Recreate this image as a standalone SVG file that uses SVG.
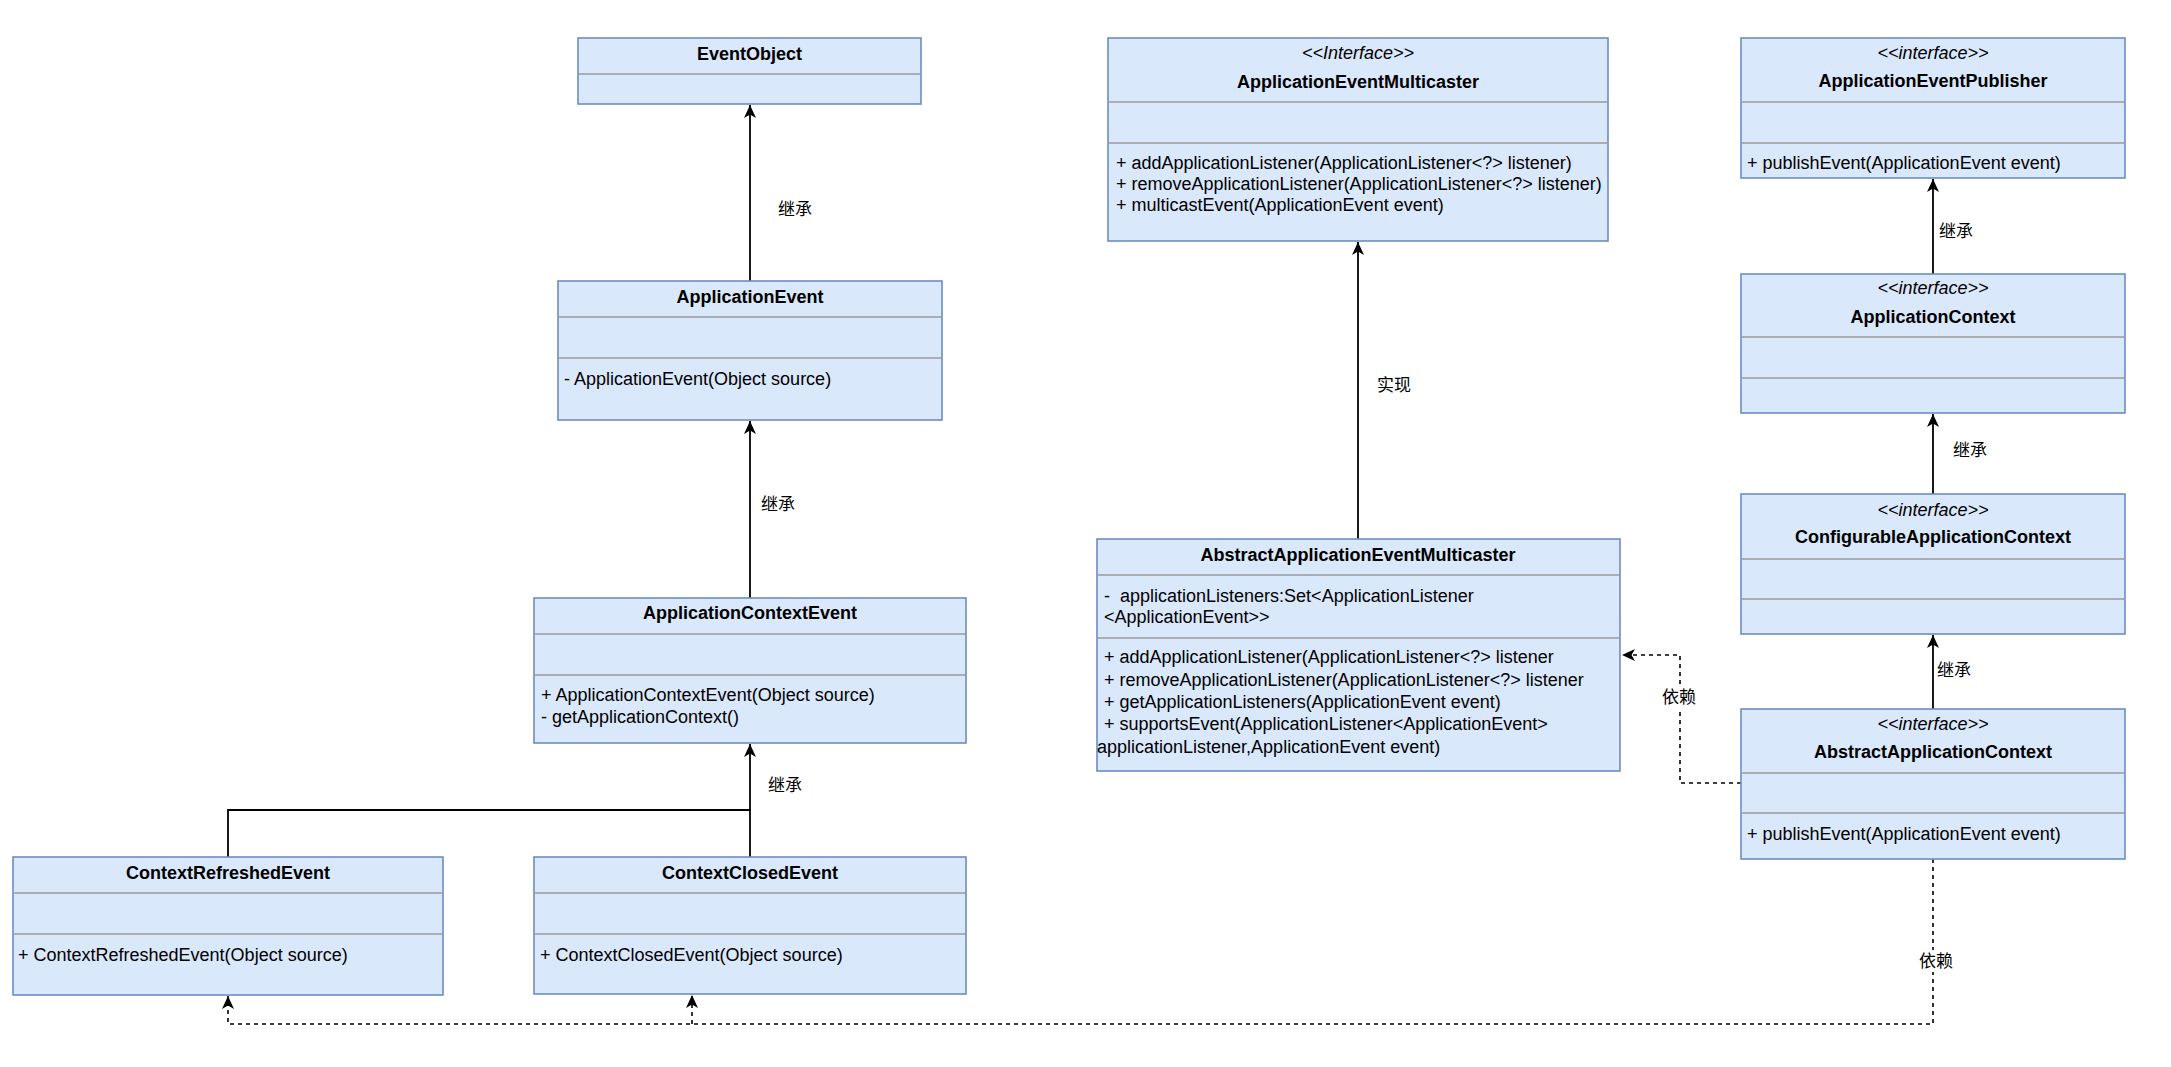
<svg xmlns="http://www.w3.org/2000/svg" width="2171" height="1067" viewBox="0 0 2171 1067">
<defs>
<style>
.box{fill:#dae8fc;stroke:#6c8ebf;stroke-width:1.6}
.div{stroke:#9a9a9a;stroke-width:1.4}
text{font-family:"Liberation Sans",Arial,"Noto Sans CJK SC",sans-serif;font-size:18px;fill:#000}
.n{font-weight:bold;text-anchor:middle}
.s{font-style:italic;text-anchor:middle}
.lbl{font-family:"Liberation Sans","Noto Sans CJK SC",sans-serif;font-size:17px;text-anchor:middle}
.ln{fill:none;stroke:#000;stroke-width:1.8}
.dash{fill:none;stroke:#000;stroke-width:1.6;stroke-dasharray:4 4}
</style>
<marker id="arr" viewBox="0 0 14 12" refX="13" refY="6" markerWidth="14" markerHeight="12" markerUnits="userSpaceOnUse" orient="auto"><path d="M0,0 L13,6 L0,12 L3.5,6 Z" fill="#000"/></marker>
</defs>
<rect width="2171" height="1067" fill="#fff"/>

<g id="connectors">
<path class="ln" d="M750,281 V105" marker-end="url(#arr)"/>
<path class="ln" d="M750,598 V421" marker-end="url(#arr)"/>
<path class="ln" d="M750,857 V744" marker-end="url(#arr)"/>
<path class="ln" d="M228,857 V810 H750"/>
<path class="ln" d="M1358,539 V242" marker-end="url(#arr)"/>
<path class="ln" d="M1933,274 V179" marker-end="url(#arr)"/>
<path class="ln" d="M1933,494 V414" marker-end="url(#arr)"/>
<path class="ln" d="M1933,709 V635" marker-end="url(#arr)"/>
<path class="dash" d="M1741,783 H1680 V655 H1622" marker-end="url(#arr)"/>
<path class="dash" d="M1933,859 V1024 H228 V996" marker-end="url(#arr)"/>
<path class="dash" d="M692,1024 V995" marker-end="url(#arr)"/>
<text class="lbl" x="795" y="215">继承</text>
<text class="lbl" x="778" y="510">继承</text>
<text class="lbl" x="785" y="791">继承</text>
<text class="lbl" x="1394" y="391">实现</text>
<text class="lbl" x="1956" y="237">继承</text>
<text class="lbl" x="1970" y="456">继承</text>
<text class="lbl" x="1954" y="676">继承</text>
<rect x="1660" y="686" width="38" height="22" fill="#fff"/>
<text class="lbl" x="1679" y="703">依赖</text>
<rect x="1917" y="950" width="38" height="22" fill="#fff"/>
<text class="lbl" x="1936" y="967">依赖</text>
</g>

<g id="EventObject">
<rect class="box" x="578" y="38" width="343" height="66"/>
<line class="div" x1="578" y1="74" x2="921" y2="74"/>
<text class="n" x="749.5" y="60">EventObject</text>
</g>

<g id="ApplicationEvent">
<rect class="box" x="558" y="281" width="384" height="139"/>
<line class="div" x1="558" y1="317" x2="942" y2="317"/>
<line class="div" x1="558" y1="358" x2="942" y2="358"/>
<text class="n" x="750" y="303">ApplicationEvent</text>
<text x="564" y="385">- ApplicationEvent(Object source)</text>
</g>

<g id="ApplicationContextEvent">
<rect class="box" x="534" y="598" width="432" height="145"/>
<line class="div" x1="534" y1="634" x2="966" y2="634"/>
<line class="div" x1="534" y1="675" x2="966" y2="675"/>
<text class="n" x="750" y="619">ApplicationContextEvent</text>
<text x="541" y="701">+ ApplicationContextEvent(Object source)</text>
<text x="541" y="723">- getApplicationContext()</text>
</g>

<g id="ContextRefreshedEvent">
<rect class="box" x="13" y="857" width="430" height="138"/>
<line class="div" x1="13" y1="893" x2="443" y2="893"/>
<line class="div" x1="13" y1="934" x2="443" y2="934"/>
<text class="n" x="228" y="879">ContextRefreshedEvent</text>
<text x="18" y="961">+ ContextRefreshedEvent(Object source)</text>
</g>

<g id="ContextClosedEvent">
<rect class="box" x="534" y="857" width="432" height="137"/>
<line class="div" x1="534" y1="893" x2="966" y2="893"/>
<line class="div" x1="534" y1="934" x2="966" y2="934"/>
<text class="n" x="750" y="879">ContextClosedEvent</text>
<text x="540" y="961">+ ContextClosedEvent(Object source)</text>
</g>

<g id="ApplicationEventMulticaster">
<rect class="box" x="1108" y="38" width="500" height="203"/>
<line class="div" x1="1108" y1="102" x2="1608" y2="102"/>
<line class="div" x1="1108" y1="143" x2="1608" y2="143"/>
<text class="s" x="1358" y="59">&lt;&lt;Interface&gt;&gt;</text>
<text class="n" x="1358" y="88">ApplicationEventMulticaster</text>
<text x="1116" y="169">+ addApplicationListener(ApplicationListener&lt;?&gt; listener)</text>
<text x="1116" y="190">+ removeApplicationListener(ApplicationListener&lt;?&gt; listener)</text>
<text x="1116" y="211">+ multicastEvent(ApplicationEvent event)</text>
</g>

<g id="AbstractApplicationEventMulticaster">
<rect class="box" x="1097" y="539" width="523" height="232"/>
<line class="div" x1="1097" y1="575" x2="1620" y2="575"/>
<line class="div" x1="1097" y1="638" x2="1620" y2="638"/>
<text class="n" x="1358" y="561">AbstractApplicationEventMulticaster</text>
<text x="1104" y="602" xml:space="preserve">-  applicationListeners:Set&lt;ApplicationListener</text>
<text x="1104" y="623">&lt;ApplicationEvent&gt;&gt;</text>
<text x="1104" y="663">+ addApplicationListener(ApplicationListener&lt;?&gt; listener</text>
<text x="1104" y="686">+ removeApplicationListener(ApplicationListener&lt;?&gt; listener</text>
<text x="1104" y="708">+ getApplicationListeners(ApplicationEvent event)</text>
<text x="1104" y="730">+ supportsEvent(ApplicationListener&lt;ApplicationEvent&gt;</text>
<text x="1097" y="753">applicationListener,ApplicationEvent event)</text>
</g>

<g id="ApplicationEventPublisher">
<rect class="box" x="1741" y="38" width="384" height="140"/>
<line class="div" x1="1741" y1="102" x2="2125" y2="102"/>
<line class="div" x1="1741" y1="143" x2="2125" y2="143"/>
<text class="s" x="1933" y="59">&lt;&lt;interface&gt;&gt;</text>
<text class="n" x="1933" y="87">ApplicationEventPublisher</text>
<text x="1747" y="169">+ publishEvent(ApplicationEvent event)</text>
</g>

<g id="ApplicationContext">
<rect class="box" x="1741" y="274" width="384" height="139"/>
<line class="div" x1="1741" y1="337" x2="2125" y2="337"/>
<line class="div" x1="1741" y1="378" x2="2125" y2="378"/>
<text class="s" x="1933" y="294">&lt;&lt;interface&gt;&gt;</text>
<text class="n" x="1933" y="323">ApplicationContext</text>
</g>

<g id="ConfigurableApplicationContext">
<rect class="box" x="1741" y="494" width="384" height="140"/>
<line class="div" x1="1741" y1="559" x2="2125" y2="559"/>
<line class="div" x1="1741" y1="599" x2="2125" y2="599"/>
<text class="s" x="1933" y="516">&lt;&lt;interface&gt;&gt;</text>
<text class="n" x="1933" y="543">ConfigurableApplicationContext</text>
</g>

<g id="AbstractApplicationContext">
<rect class="box" x="1741" y="709" width="384" height="150"/>
<line class="div" x1="1741" y1="773" x2="2125" y2="773"/>
<line class="div" x1="1741" y1="813" x2="2125" y2="813"/>
<text class="s" x="1933" y="730">&lt;&lt;interface&gt;&gt;</text>
<text class="n" x="1933" y="758">AbstractApplicationContext</text>
<text x="1747" y="840">+ publishEvent(ApplicationEvent event)</text>
</g>
</svg>
